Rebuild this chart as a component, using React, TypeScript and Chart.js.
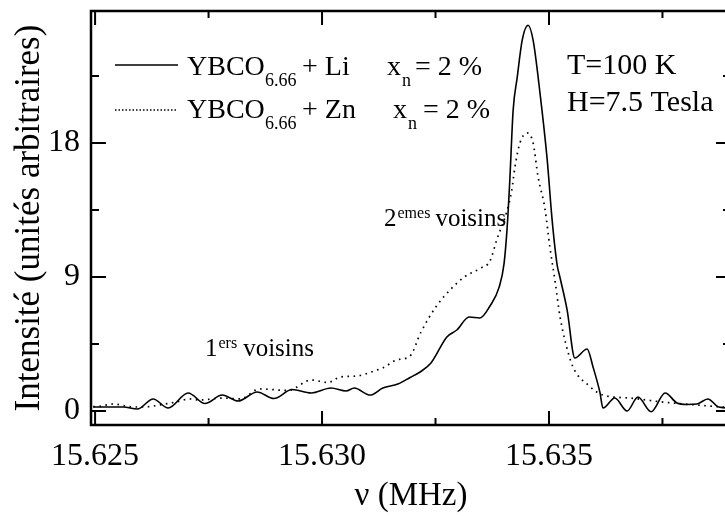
import React, { useEffect, useRef } from "react";
import { Chart, registerables } from "chart.js";
Chart.register(...registerables);

// ---- data (MHz, arbitrary units) ----
const liFreq = [15.62496, 15.62524, 15.62562, 15.62593, 15.62628, 15.62661, 15.62705, 15.62742, 15.6278, 15.62815, 15.62857, 15.62894, 15.62934, 15.62976, 15.6302, 15.63053, 15.63071, 15.63106, 15.63134, 15.63167, 15.63194, 15.63216, 15.6324, 15.63275, 15.63297, 15.63324, 15.63348, 15.6337, 15.6339, 15.63401, 15.63408, 15.63414, 15.63421, 15.6343, 15.63441, 15.63454, 15.63465, 15.6348, 15.63496, 15.63507, 15.63518, 15.63524, 15.6354, 15.63557, 15.63584, 15.63597, 15.63612, 15.63619, 15.63645, 15.63672, 15.63696, 15.63725, 15.63756, 15.63782, 15.63804, 15.63826, 15.6385, 15.63874, 15.63901];
const liInt = [0.27, 0.27, 0.27, 0.13, 0.81, 0.2, 1.21, 0.5, 1.07, 0.67, 1.28, 0.84, 1.44, 1.21, 1.54, 1.34, 1.54, 1.07, 1.54, 1.81, 2.25, 2.62, 3.22, 4.97, 5.44, 6.31, 6.25, 7.05, 8.3, 9.9, 12.4, 15.7, 20.2, 22.4, 24.9, 25.9, 24.9, 21.4, 16.9, 12.8, 9.8, 9.0, 6.78, 3.56, 4.16, 2.96, 1.28, 0.2, 0.87, 0.0, 0.94, -0.05, 1.21, 0.54, 0.44, 0.47, 0.81, 0.27, 0.2];

const znFreq = [15.62496, 15.62504, 15.6254, 15.62584, 15.62606, 15.62659, 15.62678, 15.62709, 15.62731, 15.62782, 15.62819, 15.62863, 15.62925, 15.62976, 15.63013, 15.6304, 15.63077, 15.63121, 15.63134, 15.63165, 15.63194, 15.63218, 15.63251, 15.63282, 15.63315, 15.6335, 15.6337, 15.63385, 15.63408, 15.63418, 15.63425, 15.63436, 15.63452, 15.63465, 15.63476, 15.63491, 15.63502, 15.63513, 15.63524, 15.63535, 15.63553, 15.63586, 15.63619, 15.63678, 15.63751, 15.63826, 15.63883, 15.63901];
const znInt = [0.3, 0.3, 0.47, 0.27, 0.27, 0.5, 0.6, 0.81, 0.74, 0.87, 0.81, 1.48, 1.38, 2.08, 1.91, 2.28, 2.35, 2.75, 2.89, 3.43, 3.7, 5.3, 7.0, 8.13, 9.03, 9.6, 10.07, 11.5, 13.5, 14.84, 16.39, 18.0, 18.67, 18.0, 15.72, 13.6, 11.0, 8.8, 6.4, 4.77, 2.95, 1.75, 1.07, 0.87, 0.6, 0.4, 0.27, 0.25];

const xMajorTicks = [15.625, 15.63, 15.635];
const xMinorTicks = [15.6275, 15.6325, 15.6375];
const yMajorTicks = [0, 9, 18];
const yMinorTicks = [4.5, 13.5, 22.5];

const SERIF = '"Liberation Serif", "Times New Roman", serif';

const framePlugin = {
  id: "framePlugin",
  afterDraw(chart: any) {
    const ctx = chart.ctx;
    const { left, right, top, bottom } = chart.chartArea;
    const xs = chart.scales.x;
    const ys = chart.scales.y;
    ctx.save();
    ctx.strokeStyle = "#000";
    ctx.lineWidth = 2.5;
    ctx.strokeRect(left, top, right - left, bottom - top);
    ctx.lineWidth = 2;
    const vTick = (v: number, len: number) => {
      const p = xs.getPixelForValue(v);
      ctx.beginPath();
      ctx.moveTo(p, bottom);
      ctx.lineTo(p, bottom - len);
      ctx.moveTo(p, top);
      ctx.lineTo(p, top + len);
      ctx.stroke();
    };
    const hTick = (v: number, len: number) => {
      const p = ys.getPixelForValue(v);
      ctx.beginPath();
      ctx.moveTo(left, p);
      ctx.lineTo(left + len, p);
      ctx.moveTo(right, p);
      ctx.lineTo(right - len, p);
      ctx.stroke();
    };
    xMajorTicks.forEach((v) => vTick(v, 14));
    xMinorTicks.forEach((v) => vTick(v, 7));
    yMajorTicks.forEach((v) => hTick(v, 15));
    yMinorTicks.forEach((v) => hTick(v, 8));

    // legend
    ctx.fillStyle = "#000";
    ctx.textBaseline = "alphabetic";
    ctx.textAlign = "left";
    ctx.lineWidth = 1.6;
    ctx.beginPath();
    ctx.moveTo(115, 65);
    ctx.lineTo(178, 65);
    ctx.stroke();
    ctx.setLineDash([1.5, 2]);
    ctx.beginPath();
    ctx.moveTo(115, 110);
    ctx.lineTo(176, 110);
    ctx.stroke();
    ctx.setLineDash([]);

    const big = `28px ${SERIF}`;
    const sub = `18px ${SERIF}`;
    const row = (y: number, tail: string, xX: number, eqX: number) => {
      ctx.font = big;
      ctx.fillText("YBCO", 187, y);
      ctx.font = sub;
      ctx.fillText("6.66", 265, y + 11);
      ctx.font = big;
      ctx.fillText(tail, 302, y);
      ctx.fillText("x", xX, y);
      ctx.font = sub;
      ctx.fillText("n", xX + 15, y + 11);
      ctx.font = big;
      ctx.fillText("= 2 %", eqX, y);
    };
    row(75, "+ Li", 387, 415);
    row(118, "+ Zn", 393, 423);

    ctx.font = `30px ${SERIF}`;
    ctx.fillText("T=100 K", 567, 74);
    ctx.fillText("H=7.5 Tesla", 567, 111);

    // annotations
    const ann = (x: number, y: number, n: string, sup: string, gap: number) => {
      ctx.font = `25px ${SERIF}`;
      ctx.fillText(n, x, y);
      const w = ctx.measureText(n).width;
      ctx.font = `16px ${SERIF}`;
      ctx.fillText(sup, x + w + 1, y - 8);
      const ws = ctx.measureText(sup).width;
      ctx.font = `25px ${SERIF}`;
      ctx.fillText("voisins", x + w + 1 + ws + gap, y);
    };
    ann(205, 356, "1", "ers", 6);
    ann(384, 226, "2", "emes", 5);
    ctx.restore();
  },
};

export default function App() {
  const ref = useRef<HTMLCanvasElement | null>(null);
  useEffect(() => {
    if (!ref.current) return;
    const chart = new Chart(ref.current, {
      type: "line",
      data: {
        datasets: [
          {
            label: "YBCO6.66 + Li",
            data: liFreq.map((f, i) => ({ x: f, y: liInt[i] })),
            borderColor: "#000",
            borderWidth: 1.6,
            pointRadius: 0,
            cubicInterpolationMode: "monotone",
            fill: false,
          },
          {
            label: "YBCO6.66 + Zn",
            data: znFreq.map((f, i) => ({ x: f, y: znInt[i] })),
            borderColor: "#000",
            borderWidth: 1.7,
            borderDash: [1.6, 4.5],
            pointRadius: 0,
            cubicInterpolationMode: "monotone",
            fill: false,
          },
        ],
      },
      options: {
        animation: false,
        responsive: false,
        maintainAspectRatio: false,
        layout: { padding: { top: 11, right: 9, left: 0, bottom: 0 } },
        plugins: { legend: { display: false }, tooltip: { enabled: false } },
        scales: {
          x: {
            type: "linear",
            min: 15.62491,
            max: 15.63901,
            grid: { display: false, drawTicks: false },
            border: { display: false },
            afterFit: (s: any) => {
              s.height = 91;
              s.paddingLeft = 0;
              s.paddingRight = 0;
              s.paddingTop = 0;
              s.paddingBottom = 0;
            },
            afterBuildTicks: (s: any) => {
              s.ticks = xMajorTicks.map((v) => ({ value: v }));
            },
            ticks: {
              autoSkip: false,
              maxRotation: 0,
              padding: 12,
              color: "#000",
              font: { family: SERIF, size: 32 },
              callback: (v: any) => Number(v).toFixed(3),
            },
            title: {
              display: true,
              text: "ν (MHz)",
              color: "#000",
              font: { family: SERIF, size: 33 },
              padding: { top: 0, bottom: 0 },
            },
          },
          y: {
            type: "linear",
            min: -0.94,
            max: 26.86,
            grid: { display: false, drawTicks: false },
            border: { display: false },
            afterFit: (s: any) => {
              s.width = 91;
              s.paddingLeft = 0;
              s.paddingRight = 0;
              s.paddingTop = 0;
              s.paddingBottom = 0;
            },
            afterBuildTicks: (s: any) => {
              s.ticks = yMajorTicks.map((v) => ({ value: v }));
            },
            ticks: {
              padding: 11,
              color: "#000",
              font: { family: SERIF, size: 32 },
              callback: (v: any) => String(v),
            },
            title: {
              display: true,
              text: "Intensité (unités arbitraires)",
              color: "#000",
              font: { family: SERIF, size: 35 },
              padding: { top: 9, bottom: 0 },
            },
          },
        },
      },
      plugins: [framePlugin],
    });
    return () => chart.destroy();
  }, []);
  return (
    <div style={{ position: "fixed", left: 0, top: 0, width: 740, height: 516, background: "#fff" }}>
      <canvas ref={ref} width={740} height={516} style={{ width: 740, height: 516, display: "block" }} />
    </div>
  );
}
